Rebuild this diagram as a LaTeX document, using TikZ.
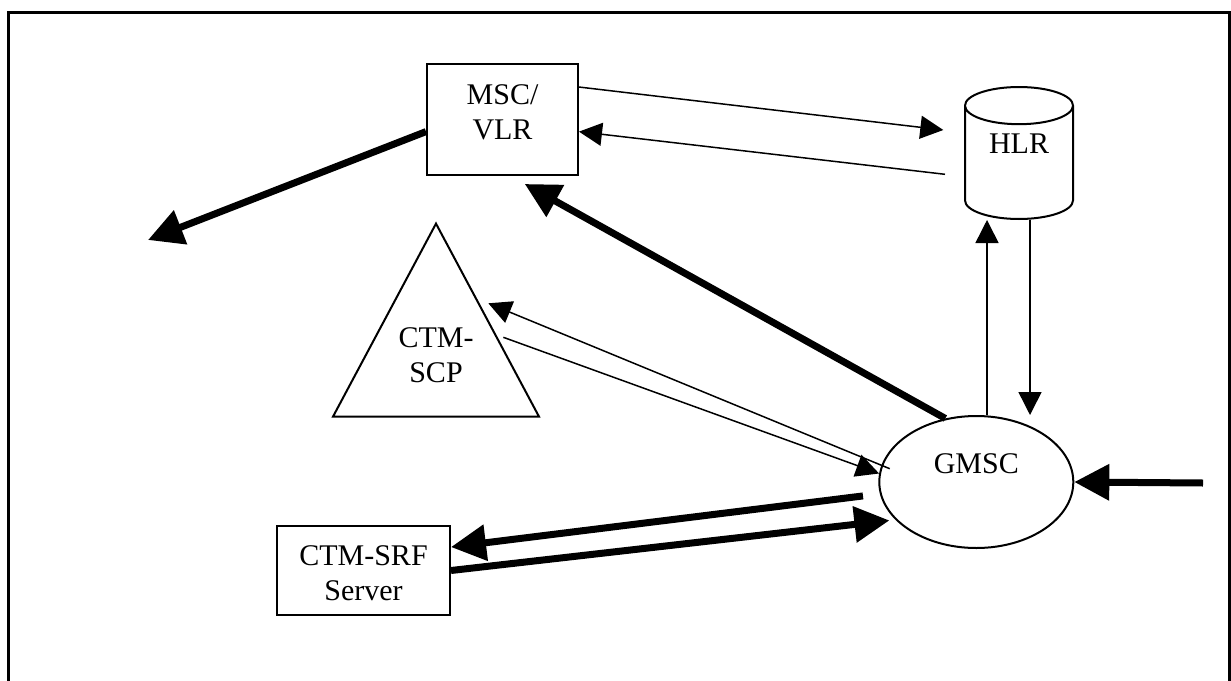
\documentclass[tikz,border=0pt]{standalone}
\usepackage{fontspec}
\setmainfont{Liberation Serif}
\usetikzlibrary{arrows.meta,shapes.geometric}
\newcommand{\upby}[2]{\raisebox{#1}[\height][\depth]{#2}}
\newcommand{\twolines}[2]{\begin{tabular}{@{}c@{}}#1\\#2\end{tabular}}
\begin{document}
\begin{tikzpicture}[x=0.5pt,y=-0.5pt,
  every node/.style={font=\fontsize{15}{17.5}\selectfont, inner sep=0pt},
  part/.style={draw, line width=1pt},
  thin link/.style={line width=0.75pt, -{Triangle[length=11.5pt,width=11.5pt]}},
  fat link/.style={line width=3.5pt, -{Triangle[length=17.5pt,width=17.5pt]}},
  frame/.style={line width=1.5pt}]
\useasboundingbox (0,0) rectangle (1231,680);
\draw[frame] (8.5,690) |- (1229.5,12.5) -- (1229.5,690);

\node[part, rectangle, minimum width=75.5pt, minimum height=55.5pt] (msc) at (502.5,119.5){\upby{2.35pt}{\twolines{MSC/}{VLR}}};
\node[part, cylinder, shape border rotate=90, aspect=0.62, minimum width=54pt, minimum height=66pt, anchor=shape center] (hlr) at (1019,153){\upby{9.5pt}{HLR}};
\node[part, isosceles triangle, isosceles triangle stretches, shape border rotate=90, minimum width=103pt, minimum height=96.5pt, anchor=apex] (scp) at (436,221){\upby{3.5pt}{\twolines{CTM-}{SCP}}};
\node[part, ellipse, minimum width=97pt, minimum height=66pt] (gmsc) at (976.3,482){\upby{9.35pt}{GMSC}};
\node[part, rectangle, minimum width=86.5pt, minimum height=44.5pt] (srf) at (363.5,570.5){\upby{-2.5pt}{\twolines{CTM-SRF}{Server}}};
\coordinate (out) at (148,240);
\coordinate (inc) at (1203,483);

\draw[thin link] (msc.23) -- ([shift={(-75.7,-23)}]hlr.shape center);
\draw[thin link] ([shift={(-74,21.3)}]hlr.shape center) -- (msc.-9);
\draw[fat link] (msc.189) -- (out);
\draw[fat link, shorten >=8.2pt] (gmsc.116) -- (msc.-82);
\draw[thin link, shorten <=-4.5pt] (gmsc.170) -- ([shift={(0,-16)}]scp.right side);
\draw[thin link] ([shift={(15,18)}]scp.right side) -- (gmsc.175);
\draw[fat link, shorten <=8.5pt] (gmsc.187) -- (srf.15);
\draw[fat link, shorten >=3pt] (srf.east) -- (gmsc.205);
\draw[thin link] ([xshift=-16pt]hlr.bottom |- gmsc.north) -- ([xshift=-16pt]hlr.bottom);
\draw[thin link] ([xshift=5.5pt]hlr.bottom) -- ([xshift=5.5pt]hlr.bottom |- gmsc.north);
\draw[fat link] (inc) -- (gmsc.east);
\end{tikzpicture}
\end{document}
